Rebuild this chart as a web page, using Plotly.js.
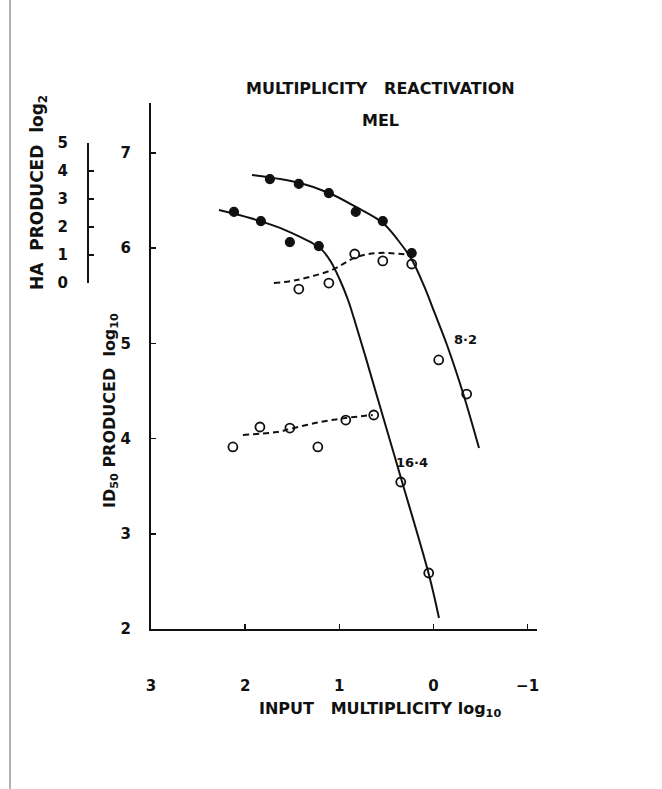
<!DOCTYPE html>
<html>
<head>
<meta charset="utf-8">
<script src="https://cdn.plot.ly/plotly-3.0.1.min.js"></script>
<style>html,body{margin:0;padding:0;background:#fff;}</style>
</head>
<body>
<div id="chart" style="width:662px;height:789px;"></div>
<script>
// ---- data (x = input multiplicity log10, ID50 log10, HA log2) ----
const xTickVals = [3, 2, 1, 0, -1];
const xTickText = ['3', '2', '1', '0', '\u22121'];
const yTickVals = [2, 3, 4, 5, 6, 7];
const haTickVals = [0, 1, 2, 3, 4, 5];

// HA produced (half-filled circles), log2 scale
const haX82 = [1.737, 1.430, 1.111, 0.825, 0.538, 0.231];
const haY82 = [3.71, 3.54, 3.21, 2.54, 2.21, 1.07];
const haX164 = [2.119, 1.833, 1.525, 1.218];
const haY164 = [2.54, 2.21, 1.46, 1.32];

// ID50 produced (open circles), log10 scale
const idX82 = [1.430, 1.111, 0.836, 0.538, 0.231, -0.056, -0.353];
const idY82 = [5.571, 5.634, 5.939, 5.866, 5.834, 4.826, 4.468];
const idX164 = [2.130, 1.843, 1.525, 1.228, 0.931, 0.634, 0.347, 0.050];
const idY164 = [3.912, 4.122, 4.111, 3.912, 4.195, 4.248, 3.544, 2.588];

// fitted solid curves (ID50 scale)
const curveX82 = [1.927, 1.417, 1.109, 0.823, 0.537, 0.378, 0.228, 0.100, -0.017, -0.144, -0.314, -0.484];
const curveY82 = [6.769, 6.685, 6.580, 6.433, 6.265, 6.086, 5.876, 5.603, 5.309, 4.983, 4.479, 3.901];
const curveX164 = [2.278, 1.948, 1.630, 1.417, 1.290, 1.184, 1.088, 0.993, 0.907, 0.823, 0.727, 0.600, 0.345, 0.047, -0.059];
const curveY164 = [6.401, 6.317, 6.213, 6.118, 6.055, 5.982, 5.855, 5.666, 5.456, 5.193, 4.878, 4.447, 3.586, 2.567, 2.116];

// dashed curves (ID50 scale)
const dashX82 = [1.695, 1.451, 1.080, 0.814, 0.570, 0.252];
const dashY82 = [5.634, 5.666, 5.771, 5.908, 5.950, 5.929];
const dashX164 = [2.024, 1.663, 1.525, 1.207, 0.931, 0.645];
const dashY164 = [4.038, 4.069, 4.101, 4.174, 4.216, 4.248];

const curveLabels = ['8\u00b72', '16\u00b74'];
const curveLabelX = [-0.342, 0.231];
const curveLabelY = [5.036, 3.744];

// ---- layout helpers (pixel -> paper) ----
const W = 662, H = 789, ML = 40, MR = 125, MT = 103, MB = 160;
const PW = W - ML - MR, PH = H - MT - MB;
const px = p => (p - ML) / PW;
const py = p => (H - MB - p) / PH;

const FONT = 'DejaVu Sans';
const black = '#111';

const solid = {color: black, width: 2, shape: 'spline', smoothing: 1};
const dashed = {color: black, width: 2, shape: 'spline', smoothing: 1, dash: '6px,4px'};
const openM = {symbol: 'circle-open', size: 9, color: black, line: {width: 1.8, color: black}};
const halfM = {symbol: 'circle', size: 9, color: black, line: {width: 1.2, color: black}};

const traces = [
  {x: curveX82, y: curveY82, mode: 'lines', line: solid, hoverinfo: 'skip'},
  {x: curveX164, y: curveY164, mode: 'lines', line: solid, hoverinfo: 'skip'},
  {x: dashX82, y: dashY82, mode: 'lines', line: dashed, hoverinfo: 'skip'},
  {x: dashX164, y: dashY164, mode: 'lines', line: dashed, hoverinfo: 'skip'},
  {x: idX82, y: idY82, mode: 'markers', marker: openM},
  {x: idX164, y: idY164, mode: 'markers', marker: openM},
  {x: haX82, y: haY82, yaxis: 'y2', mode: 'markers', marker: halfM, cliponaxis: false},
  {x: haX164, y: haY164, yaxis: 'y2', mode: 'markers', marker: halfM, cliponaxis: false}
];

const tickFont = {family: FONT, size: 15, color: black, weight: 'bold'};
const ann = (text, xp, yp, opts) => Object.assign({
  text: text, xref: 'paper', yref: 'paper', x: px(xp), y: py(yp),
  showarrow: false, xanchor: 'center', yanchor: 'middle',
  font: {family: FONT, size: 16, color: black, weight: 'bold'}
}, opts || {});

const annotations = [
  ann('MULTIPLICITY\u00a0\u00a0\u00a0REACTIVATION', 380, 88),
  ann('MEL', 380, 120),
  ann('INPUT\u00a0\u00a0\u00a0MULTIPLICITY log<sub>10</sub>', 380, 709),
  ann('ID<sub>50</sub>\u00a0PRODUCED\u00a0\u00a0log<sub>10</sub>', 110, 411, {textangle: -90}),
  ann('HA\u00a0\u00a0PRODUCED\u00a0\u00a0log<sub>2</sub>', 38, 193, {textangle: -90,
      font: {family: FONT, size: 17, color: black, weight: 'bold'}})
];
curveLabels.forEach((t, i) => annotations.push({
  text: t, x: curveLabelX[i], y: curveLabelY[i], xref: 'x', yref: 'y',
  showarrow: false, font: {family: FONT, size: 13, color: black, weight: 'bold'}
}));

const layout = {
  width: W, height: H,
  margin: {l: ML, r: MR, t: MT, b: MB, pad: 0},
  paper_bgcolor: '#fff', plot_bgcolor: 'rgba(0,0,0,0)',
  showlegend: false,
  font: {family: FONT, color: black},
  xaxis: {
    domain: [px(151), 1], range: [3, -1.1],
    tickmode: 'array', tickvals: xTickVals, ticktext: xTickText,
    ticks: 'inside', ticklen: 5, tickwidth: 1.5, tickcolor: black,
    showline: true, linewidth: 2, linecolor: black,
    showgrid: false, zeroline: false, anchor: 'y',
    ticklabelstandoff: 42, tickfont: tickFont
  },
  yaxis: {
    domain: [0, 1], range: [2, 7.525],
    tickmode: 'array', tickvals: yTickVals,
    ticks: 'inside', ticklen: 5, tickwidth: 1.5, tickcolor: black,
    showline: true, linewidth: 2, linecolor: black,
    showgrid: false, zeroline: false, anchor: 'x',
    ticklabelstandoff: 15, tickfont: tickFont
  },
  yaxis2: {
    domain: [py(283), py(143)], range: [0, 5],
    anchor: 'free', position: px(87), side: 'left',
    tickmode: 'array', tickvals: haTickVals,
    ticks: 'inside', ticklen: 5, tickwidth: 1.5, tickcolor: black,
    showline: true, linewidth: 1.5, linecolor: black,
    showgrid: false, zeroline: false,
    ticklabelstandoff: 16, tickfont: tickFont
  },
  annotations: annotations,
  shapes: [
    {type: 'line', xref: 'paper', yref: 'paper', x0: px(10), x1: px(10), y0: py(789), y1: py(0),
     line: {color: '#666', width: 1}}
  ]
};

Plotly.newPlot('chart', traces, layout, {displayModeBar: false, staticPlot: true});
</script>
</body>
</html>
